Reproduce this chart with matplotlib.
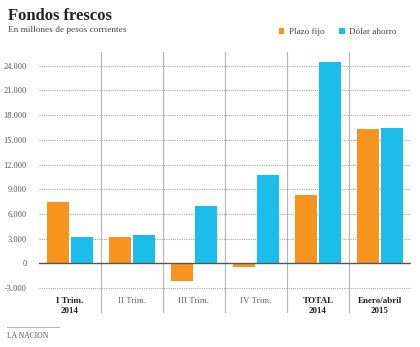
import numpy as np
import matplotlib.pyplot as plt
from matplotlib.lines import Line2D

# Datos (millones de pesos corrientes)
categorias = ['I Trim.\n2014', 'II Trim.', 'III Trim.', 'IV Trim.',
              'TOTAL\n2014', 'Enero/abril\n2015']
negrita = [True, False, False, False, True, True]
plazo_fijo = [7400, 3250, -2100, -400, 8300, 16300]
dolar_ahorro = [3150, 3400, 7000, 10700, 24400, 16450]
yticks = [-3000, 0, 3000, 6000, 9000, 12000, 15000, 18000, 21000, 24000]

NARANJA = '#F7941D'
CELESTE = '#1BBDEB'
GRIS = '#b5b5b5'

plt.rcParams['font.family'] = ['Liberation Serif', 'DejaVu Serif']

W, H = 420, 347
fig = plt.figure(figsize=(W / 100, H / 100), dpi=100)
ax = fig.add_axes([39 / W, 1 - 313 / H, (411 - 39) / W, (313 - 52) / H])

x = np.arange(len(categorias))
ancho = 0.355
ax.bar(x - 0.2, plazo_fijo, ancho, color=NARANJA, label='Plazo fijo', zorder=3)
ax.bar(x + 0.2, dolar_ahorro, ancho, color=CELESTE, label='Dólar ahorro', zorder=3)

ax.set_xlim(-0.5, len(categorias) - 0.5)
ax.set_ylim(-6036, 25664)

# grilla punteada y línea de cero
for v in yticks:
    if v == 0:
        ax.axhline(0, color='#555555', lw=1.0, zorder=4)
    else:
        ax.axhline(v, color='#a8a8a8', lw=0.8, ls=(0, (1, 1)), zorder=1)

# divisores verticales entre grupos
for xv in x[:-1] + 0.5:
    ax.axvline(xv, color=GRIS, lw=0.8, zorder=1)

ax.set_yticks(yticks)
ax.set_yticklabels(['{:,}'.format(v).replace(',', '.') for v in yticks],
                   fontsize=6, color='#555555')
ax.tick_params(axis='y', length=0, pad=9)
ax.set_xticks([])
for s in ax.spines.values():
    s.set_visible(False)

# etiquetas de categorías
for xi, cat, b in zip(x, categorias, negrita):
    ax.text(xi, -4150, cat, ha='center', va='top', fontsize=6.5,
            fontweight='bold' if b else 'normal',
            color='#222222' if b else '#666666', linespacing=1.3)

# títulos
fig.text(8 / W, 1 - 16 / H, 'Fondos frescos', fontsize=12, fontweight='bold',
         color='#222222', va='center', ha='left')
fig.text(8 / W, 1 - 30 / H, 'En millones de pesos corrientes', fontsize=6.7,
         color='#444444', va='center', ha='left')

fig.legend(loc='center right', bbox_to_anchor=(405 / W, 1 - 32 / H),
           ncol=2, frameon=False, fontsize=6.6, handlelength=0.6,
           handleheight=0.6, handletextpad=0.5, columnspacing=1.6,
           labelcolor='#444444')

# pie
fig.add_artist(Line2D([7 / W, 59 / W], [1 - 327 / H] * 2, color=GRIS, lw=0.7))
fig.text(7 / W, 1 - 336 / H, 'LA NACION', fontsize=5.5, color='#555555',
         va='center', ha='left')

fig.savefig('out.png', dpi=100)
